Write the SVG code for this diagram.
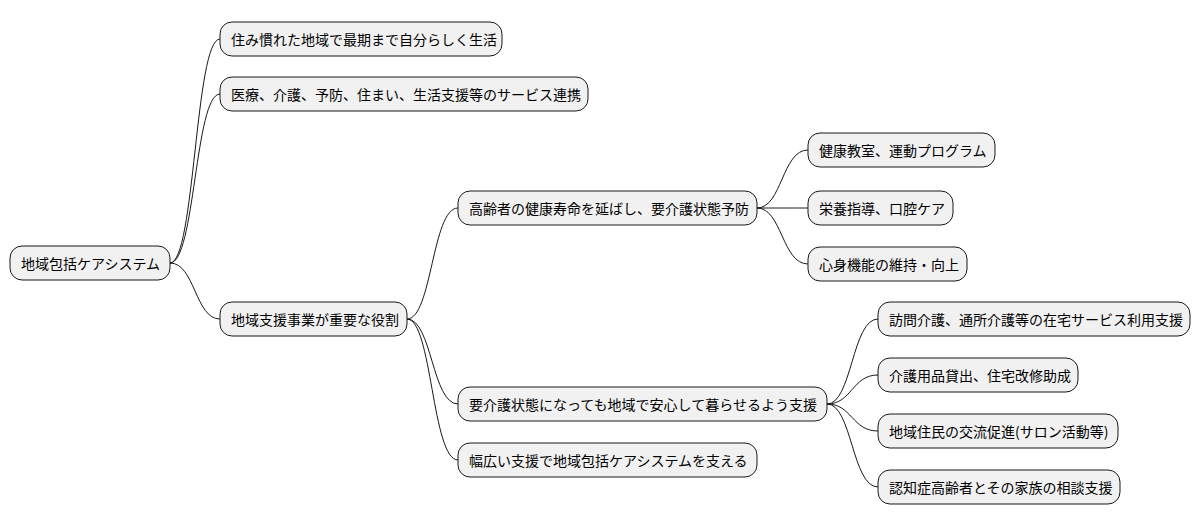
<svg xmlns="http://www.w3.org/2000/svg" width="1202" height="527" viewBox="0 0 1202 527">
<style>
rect{fill:#F1F1F1;stroke:#181818;stroke-width:1}
text{font-family:"Noto Sans CJK JP","Noto Sans",sans-serif;font-size:14px;fill:#000;dominant-baseline:central}
.c path{fill:none;stroke:#181818;stroke-width:1}
</style>
<rect width="1202" height="527" fill="#fff" stroke="none" style="fill:#fff;stroke:none"/>
<g class="c">
<path d="M170,263 C195,263 195,39 220,39"/>
<path d="M170,263 C195,263 195,94 220,94"/>
<path d="M170,263 C195,263 195,319 220,319"/>
<path d="M407,319 C432,319 432,208 458,208"/>
<path d="M407,319 C432,319 432,404 458,404"/>
<path d="M407,319 C432,319 432,460 458,460"/>
<path d="M757,208 C782,208 782,150 808,150"/>
<path d="M757,208 C782,208 782,208 808,208"/>
<path d="M757,208 C782,208 782,264 808,264"/>
<path d="M827,404 C852,404 852,319 878,319"/>
<path d="M827,404 C852,404 852,375 878,375"/>
<path d="M827,404 C852,404 852,431 878,431"/>
<path d="M827,404 C852,404 852,487 878,487"/>
</g>
<g id="root"><rect x="10" y="246" width="160" height="34" rx="12"/><text x="21" y="263">地域包括ケアシステム</text></g>
<g id="n1"><rect x="220" y="22" width="282" height="34" rx="12"/><text x="231" y="39">住み慣れた地域で最期まで自分らしく生活</text></g>
<g id="n2"><rect x="220" y="77" width="368" height="34" rx="12"/><text x="231" y="94">医療、介護、予防、住まい、生活支援等のサービス連携</text></g>
<g id="n3"><rect x="220" y="302" width="187" height="34" rx="12"/><text x="231" y="319">地域支援事業が重要な役割</text></g>
<g id="n31"><rect x="458" y="191" width="299" height="34" rx="12"/><text x="469" y="208">高齢者の健康寿命を延ばし、要介護状態予防</text></g>
<g id="n32"><rect x="458" y="387" width="369" height="34" rx="12"/><text x="469" y="404">要介護状態になっても地域で安心して暮らせるよう支援</text></g>
<g id="n33"><rect x="458" y="443" width="299" height="34" rx="12"/><text x="469" y="460">幅広い支援で地域包括ケアシステムを支える</text></g>
<g id="n311"><rect x="808" y="133" width="187" height="34" rx="12"/><text x="819" y="150">健康教室、運動プログラム</text></g>
<g id="n312"><rect x="808" y="191" width="145" height="34" rx="12"/><text x="819" y="208">栄養指導、口腔ケア</text></g>
<g id="n313"><rect x="808" y="247" width="159" height="34" rx="12"/><text x="819" y="264">心身機能の維持・向上</text></g>
<g id="n321"><rect x="878" y="302" width="312" height="34" rx="12"/><text x="889" y="319">訪問介護、通所介護等の在宅サービス利用支援</text></g>
<g id="n322"><rect x="878" y="358" width="200" height="34" rx="12"/><text x="889" y="375">介護用品貸出、住宅改修助成</text></g>
<g id="n323"><rect x="878" y="414" width="240" height="34" rx="12"/><text x="889" y="431">地域住民の交流促進(サロン活動等)</text></g>
<g id="n324"><rect x="878" y="470" width="242" height="34" rx="12"/><text x="889" y="487">認知症高齢者とその家族の相談支援</text></g>
</svg>
